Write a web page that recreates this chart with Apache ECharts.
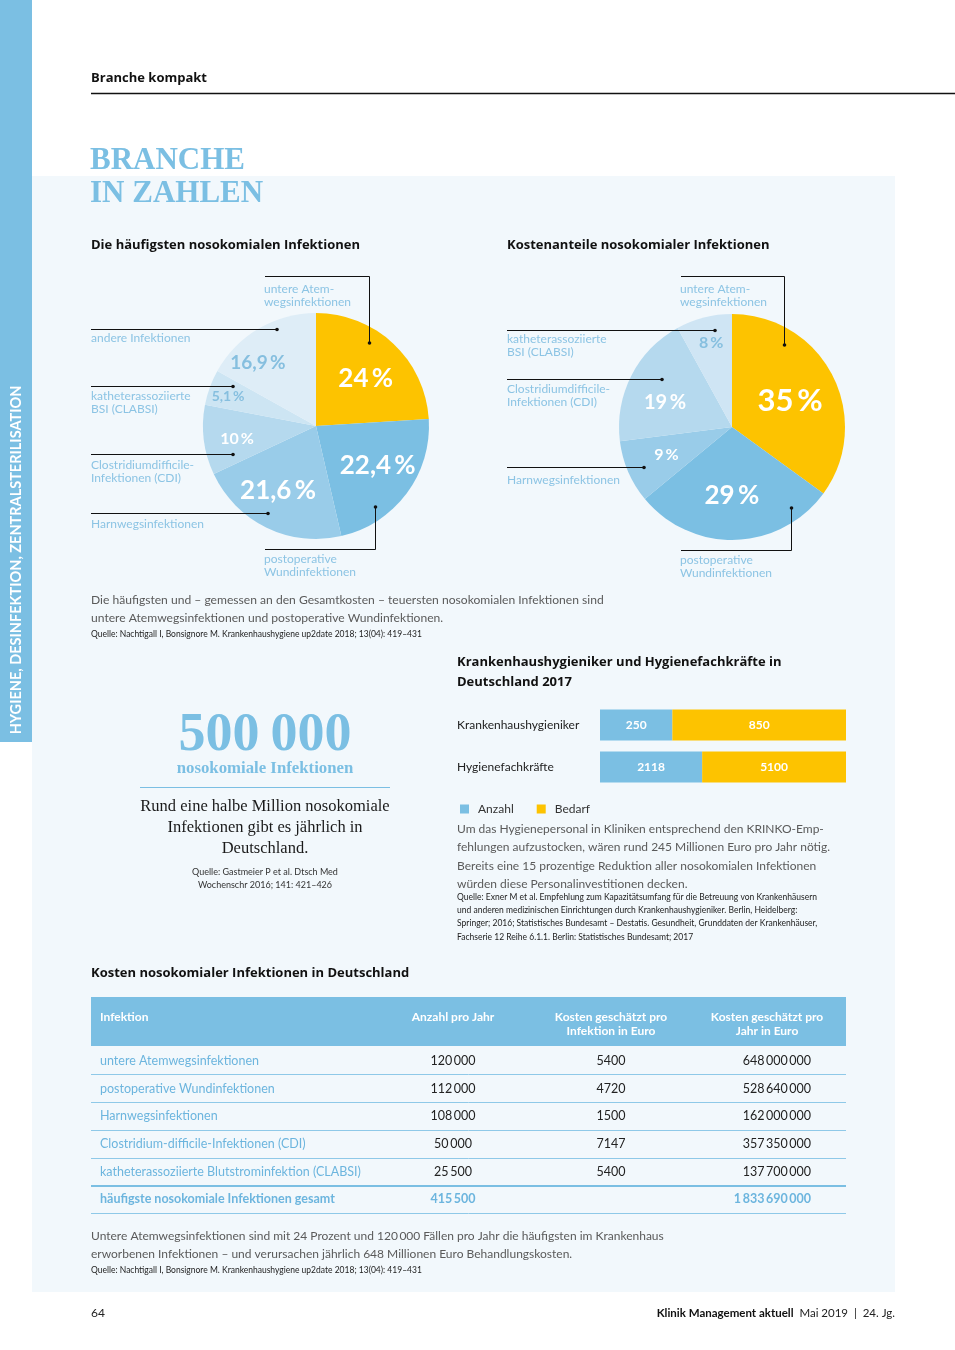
<!DOCTYPE html>
<html><head><meta charset="utf-8">
<script src="https://cdn.jsdelivr.net/npm/echarts@6.0.0/dist/echarts.min.js"></script>
<style>html,body{margin:0;padding:0;background:#fff}#c{width:955px;height:1350px}</style>
</head><body><div id="c"></div>
<script>
// ---------- DATA ----------
const pie1Names = ['untere Atemwegsinfektionen','postoperative Wundinfektionen','Harnwegsinfektionen','Clostridiumdifficile-Infektionen (CDI)','katheterassoziierte BSI (CLABSI)','andere Infektionen'];
const pie1Values = [24, 22.4, 21.6, 10, 5.1, 16.9];
const pie2Names = ['untere Atemwegsinfektionen','postoperative Wundinfektionen','Harnwegsinfektionen','Clostridiumdifficile-Infektionen (CDI)','katheterassoziierte BSI (CLABSI)'];
const pie2Values = [35, 29, 9, 19, 8];

const barCategories = ['Krankenhaushygieniker', 'Hygienefachkräfte'];
const barAnzahl = [250, 2118];
const barBedarf = [850, 5100];
const barLegend = ['Anzahl', 'Bedarf'];

const tableHeader = ['Infektion', 'Anzahl pro Jahr', 'Kosten geschätzt pro\nInfektion in Euro', 'Kosten geschätzt pro\nJahr in Euro'];
const tableNames = ['untere Atemwegsinfektionen','postoperative Wundinfektionen','Harnwegsinfektionen','Clostridium-difficile-Infektionen (CDI)','katheterassoziierte Blutstrominfektion (CLABSI)'];
const tableAnzahl = [120000, 112000, 108000, 50000, 25500];
const tableKostenInfektion = [5400, 4720, 1500, 7147, 5400];
const tableKostenJahr = [648000000, 528640000, 162000000, 357350000, 137700000];
const tableTotalName = 'häufigste nosokomiale Infektionen gesamt';
const tableTotalAnzahl = 415500;
const tableTotalKosten = 1833690000;

// ---------- STYLE ----------
const SANS = "Lato, 'Noto Sans', sans-serif";
const HEAD = "'Open Sans', 'Noto Sans', sans-serif";
const SERIF = "'Liberation Serif', serif";
const BLUE = '#7bbfe3';
const YELLOW = '#fdc300';
const LABELBLUE = '#8cc4e4';
const pie1Colors = [YELLOW, BLUE, '#99cce9', '#b5d9ee', '#cde5f3', '#deedf7'];
const pie1LabelColors = ['#fff','#fff','#fff','#fff','#86bfdf','#86bfdf'];
const pie1LabelSizes = [26, 26, 26, 16, 14, 19];
const pie1LabelShift = [[9,-4],[14,4],[-12,11],[-20,5],[-32,-9],[-28,-12]];
const pie2Colors = [YELLOW, BLUE, '#99cce9', '#b5d9ee', '#cfe5f4'];
const pie2LabelColors = ['#fff','#fff','#fff','#fff','#86bfdf'];
const pie2LabelSizes = [31, 26, 16, 20, 16];
const pie2LabelShift = [[5,1],[-2,9],[-11,4],[-14,3],[-6,-27]];

function fmtPct(v){ return String(v).replace('.', ',') + '\u2009%'; }
function fmtNum(v){ const s = String(v); if (v < 10000) return s; return s.replace(/\B(?=(\d{3})+(?!\d))/g, '\u2009'); }

function txt(x, y, text, o) {
  return { type: 'text', x: x, y: y, z: 50, silent: true,
    style: Object.assign({ text: text, fill: '#222', fontFamily: SANS, fontSize: 12, fontWeight: 'normal',
      textAlign: 'left', align: 'left', textVerticalAlign: 'middle', verticalAlign: 'middle' }, o || {}) };
}
function poly(pts, o) { return { type: 'polyline', z: 60, silent: true, shape: { points: pts }, style: Object.assign({ stroke: '#111', lineWidth: 1, fill: null }, o || {}) }; }
function dot(x, y) { return { type: 'circle', z: 61, silent: true, shape: { cx: x, cy: y, r: 1.8 }, style: { fill: '#111' } }; }
function rect(x, y, w, h, fill, z) { return { type: 'rect', z: z == null ? -10 : z, silent: true, shape: { x: x, y: y, width: w, height: h }, style: { fill: fill } }; }
function hline(x1, x2, y, color, w) { return { type: 'line', z: 40, silent: true, shape: { x1: x1, y1: y, x2: x2, y2: y }, style: { stroke: color, lineWidth: w } }; }

const H = { fontFamily: HEAD, fontWeight: 'bold', fontSize: 13, fill: '#111' };
const els = [];
// backgrounds
els.push(rect(32, 176, 863, 1116, '#f2f8fc', -20));
els.push(rect(0, 0, 32, 742, BLUE, -19));
els.push(txt(16, 560, 'HYGIENE, DESINFEKTION, ZENTRALSTERILISATION', { fill: '#fff', fontWeight: 'bold', fontSize: 14.5, textAlign: 'center', align: 'center' }));
els[els.length - 1].rotation = Math.PI / 2;

// header
els.push(txt(91, 78, 'Branche kompakt', H));
els.push(hline(91, 955, 93.5, '#111', 1.3));
els.push(txt(90, 161, 'BRANCHE', { fontFamily: SERIF, fontWeight: 'bold', fontSize: 31, fill: BLUE }));
els.push(txt(90, 194, 'IN ZAHLEN', { fontFamily: SERIF, fontWeight: 'bold', fontSize: 31, fill: BLUE }));

// pie titles
els.push(txt(91, 245, 'Die häufigsten nosokomialen Infektionen', H));
els.push(txt(507, 245, 'Kostenanteile nosokomialer Infektionen', H));

const LBL = { fill: LABELBLUE, fontSize: 12 };
// pie 1 outer labels + leaders
[[264,289,'untere Atem-'],[264,302,'wegsinfektionen'],[91,338,'andere Infektionen'],[91,396,'katheterassoziierte'],[91,409,'BSI (CLABSI)'],
 [91,465,'Clostridiumdifficile-'],[91,478,'Infektionen (CDI)'],[91,524,'Harnwegsinfektionen'],[264,559,'postoperative'],[264,572,'Wundinfektionen']]
 .forEach(a => els.push(txt(a[0], a[1], a[2], LBL)));
els.push(poly([[265,276.5],[369.5,276.5],[369.5,343]])); els.push(dot(369.5,343));
els.push(poly([[91,329.5],[277,329.5]])); els.push(dot(277,329.5));
els.push(poly([[91,386.5],[233,386.5]])); els.push(dot(233,386.5));
els.push(poly([[91,454.5],[233,454.5]])); els.push(dot(233,454.5));
els.push(poly([[91,513.5],[268,513.5]])); els.push(dot(268,513.5));
els.push(poly([[265,549.5],[375.5,549.5],[375.5,507]])); els.push(dot(375.5,507));
// pie 2 outer labels + leaders
[[680,289,'untere Atem-'],[680,302,'wegsinfektionen'],[507,339,'katheterassoziierte'],[507,352,'BSI (CLABSI)'],
 [507,389,'Clostridiumdifficile-'],[507,402,'Infektionen (CDI)'],[507,480,'Harnwegsinfektionen'],[680,560,'postoperative'],[680,573,'Wundinfektionen']]
 .forEach(a => els.push(txt(a[0], a[1], a[2], LBL)));
els.push(poly([[681,276.5],[784.5,276.5],[784.5,345]])); els.push(dot(784.5,345));
els.push(poly([[507,330.5],[715,330.5]])); els.push(dot(715,330.5));
els.push(poly([[507,379.5],[662,379.5]])); els.push(dot(662,379.5));
els.push(poly([[507,467.5],[644,467.5]])); els.push(dot(644,467.5));
els.push(poly([[681,550.5],[791.5,550.5],[791.5,508]])); els.push(dot(791.5,508));

// paragraph under pies
const GRAY = '#5a5a5a';
els.push(txt(91, 600, 'Die häufigsten und – gemessen an den Gesamtkosten – teuersten nosokomialen Infektionen sind', { fill: GRAY, fontSize: 12.1 }));
els.push(txt(91, 618, 'untere Atemwegsinfektionen und postoperative Wundinfektionen.', { fill: GRAY, fontSize: 12.1 }));
els.push(txt(91, 634, 'Quelle: Nachtigall I, Bonsignore M. Krankenhaushygiene up2date 2018; 13(04): 419–431', { fontSize: 8.5, fill: '#222' }));

// 500 000 block
els.push(txt(265, 736, '500\u2009000', { fontFamily: SERIF, fontWeight: 'bold', fontSize: 54, fill: BLUE, textAlign: 'center', align: 'center' }));
els.push(txt(265, 769, 'nosokomiale Infektionen', { fontFamily: SERIF, fontWeight: 'bold', fontSize: 16.8, fill: BLUE, textAlign: 'center', align: 'center' }));
els.push(hline(140, 390, 787.5, BLUE, 1));
['Rund eine halbe Million nosokomiale', 'Infektionen gibt es jährlich in', 'Deutschland.'].forEach((s, i) =>
  els.push(txt(265, 807 + i * 21, s, { fontFamily: SERIF, fontSize: 16.5, fill: '#1a1a1a', textAlign: 'center', align: 'center' })));
els.push(txt(265, 872, 'Quelle: Gastmeier P et al. Dtsch Med', { fontSize: 9, fill: '#333', textAlign: 'center', align: 'center' }));
els.push(txt(265, 885, 'Wochenschr 2016; 141: 421–426', { fontSize: 9, fill: '#333', textAlign: 'center', align: 'center' }));

// bar block texts
els.push(txt(457, 662, 'Krankenhaushygieniker und Hygienefachkräfte in', H));
els.push(txt(457, 682, 'Deutschland 2017', H));
['Um das Hygienepersonal in Kliniken entsprechend den KRINKO-Emp-', 'fehlungen aufzustocken, wären rund 245 Millionen Euro pro Jahr nötig.',
 'Bereits eine 15 prozentige Reduktion aller nosokomialen Infektionen', 'würden diese Personalinvestitionen decken.']
 .forEach((s, i) => els.push(txt(457, 829 + i * 18.4, s, { fill: GRAY })));
['Quelle: Exner M et al. Empfehlung zum Kapazitätsumfang für die Betreuung von Krankenhäusern',
 'und anderen medizinischen Einrichtungen durch Krankenhaushygieniker. Berlin, Heidelberg:',
 'Springer; 2016; Statistisches Bundesamt – Destatis. Gesundheit, Grunddaten der Krankenhäuser,',
 'Fachserie 12 Reihe 6.1.1. Berlin: Statistisches Bundesamt; 2017']
 .forEach((s, i) => els.push(txt(457, 897 + i * 13.3, s, { fontSize: 8.5, fill: '#222' })));

// table
els.push(txt(91, 973, 'Kosten nosokomialer Infektionen in Deutschland', H));
els.push(rect(91, 997, 755, 49, BLUE, 30));
const colX = [100, 453, 611, 767];
tableHeader.forEach((h, i) => {
  const lines = h.split('\n');
  lines.forEach((l, j) => els.push(txt(colX[i], 1017 + j * 14, l, { fill: '#fff', fontWeight: 'bold', fontSize: 12, textAlign: i === 0 ? 'left' : 'center', align: i === 0 ? 'left' : 'center' })));
});
const rowY = [1061, 1089, 1116, 1144, 1172];
const NAMEBLUE = '#6cb5de';
tableNames.forEach((n, i) => {
  els.push(txt(100, rowY[i], n, { fill: NAMEBLUE, fontSize: 12.5 }));
  els.push(txt(453, rowY[i], fmtNum(tableAnzahl[i]), { fontSize: 12.5, textAlign: 'center', align: 'center' }));
  els.push(txt(611, rowY[i], fmtNum(tableKostenInfektion[i]), { fontSize: 12.5, textAlign: 'center', align: 'center' }));
  els.push(txt(811, rowY[i], fmtNum(tableKostenJahr[i]), { fontSize: 12.5, textAlign: 'right', align: 'right' }));
});
els.push(txt(100, 1199, tableTotalName, { fill: NAMEBLUE, fontSize: 12.5, fontWeight: 'bold' }));
els.push(txt(453, 1199, fmtNum(tableTotalAnzahl), { fill: NAMEBLUE, fontSize: 12.5, fontWeight: 'bold', textAlign: 'center', align: 'center' }));
els.push(txt(811, 1199, fmtNum(tableTotalKosten), { fill: NAMEBLUE, fontSize: 12.5, fontWeight: 'bold', textAlign: 'right', align: 'right' }));
[1074.5, 1102.5, 1130.5, 1158.5].forEach(y => els.push(hline(91, 846, y, '#8fc9e8', 1)));
els.push(hline(91, 846, 1186, BLUE, 2));
els.push(hline(91, 846, 1213.5, '#8fc9e8', 1));

els.push(txt(91, 1236, 'Untere Atemwegsinfektionen sind mit 24 Prozent und 120\u2009000 Fällen pro Jahr die häufigsten im Krankenhaus', { fill: GRAY }));
els.push(txt(91, 1254, 'erworbenen Infektionen – und verursachen jährlich 648 Millionen Euro Behandlungskosten.', { fill: GRAY }));
els.push(txt(91, 1270, 'Quelle: Nachtigall I, Bonsignore M. Krankenhaushygiene up2date 2018; 13(04): 419–431', { fontSize: 8.5, fill: '#222' }));

// footer
els.push(txt(91, 1313, '64', { fontSize: 12, fill: '#222' }));
els.push({ type: 'text', x: 895, y: 1313, z: 50, silent: true, style: {
  text: '{b|Klinik Management aktuell}{r|  Mai 2019  |  24. Jg.}', textAlign: 'right', align: 'right', textVerticalAlign: 'middle', verticalAlign: 'middle',
  rich: { b: { fontFamily: SANS, fontWeight: 'bold', fontSize: 11.5, fill: '#111', color: '#111' }, r: { fontFamily: SANS, fontSize: 11.5, fill: '#222', color: '#222' } } } });

// ---------- CHART ----------
function pieData(names, values, colors, lcolors, lsizes) {
  return values.map((v, i) => ({ name: names[i], value: v, itemStyle: { color: colors[i] },
    label: { color: lcolors[i], fontSize: lsizes[i] } }));
}
const pieLabel = { show: true, position: 'inside', fontFamily: SANS, fontWeight: 'bold', formatter: p => fmtPct(p.value) };

const chart = echarts.init(document.getElementById('c'), null, { renderer: 'canvas', width: 955, height: 1350 });
chart.setOption({
  animation: false,
  backgroundColor: '#ffffff',
  tooltip: { show: false },
  legend: {
    data: barLegend, left: 455, top: 798, icon: 'rect', itemWidth: 9, itemHeight: 9, itemGap: 23,
    textStyle: { fontFamily: SANS, fontSize: 12, color: '#333', padding: [0, 0, 0, 4] }
  },
  grid: { left: 600, top: 704, width: 246, height: 84, containLabel: false },
  xAxis: { type: 'value', min: 0, max: 1, show: false },
  yAxis: {
    type: 'category', data: barCategories, inverse: true,
    axisLine: { show: false }, axisTick: { show: false }, splitLine: { show: false },
    axisLabel: { align: 'left', margin: 143, fontFamily: SANS, fontSize: 12, color: '#222' }
  },
  graphic: { elements: els },
  series: [
    { type: 'pie', name: 'Häufigkeit', center: [316, 426], radius: [0, 113], startAngle: 90, clockwise: true,
      avoidLabelOverlap: false, labelLine: { show: false }, silent: true,
      label: pieLabel,
      labelLayout: p => ({ dx: pie1LabelShift[p.dataIndex][0], dy: pie1LabelShift[p.dataIndex][1] }),
      data: pieData(pie1Names, pie1Values, pie1Colors, pie1LabelColors, pie1LabelSizes) },
    { type: 'pie', name: 'Kosten', center: [732, 427], radius: [0, 113], startAngle: 90, clockwise: true,
      avoidLabelOverlap: false, labelLine: { show: false }, silent: true,
      label: pieLabel,
      labelLayout: p => ({ dx: pie2LabelShift[p.dataIndex][0], dy: pie2LabelShift[p.dataIndex][1] }),
      data: pieData(pie2Names, pie2Values, pie2Colors, pie2LabelColors, pie2LabelSizes) },
    { type: 'bar', name: barLegend[0], stack: 'p', barWidth: 31, silent: true,
      itemStyle: { color: BLUE },
      label: { show: true, position: 'inside', color: '#fff', fontFamily: SANS, fontWeight: 'bold', fontSize: 12,
        formatter: p => fmtNum(barAnzahl[p.dataIndex]) },
      data: barAnzahl.map((a, i) => a / barBedarf[i]) },
    { type: 'bar', name: barLegend[1], stack: 'p', barWidth: 31, silent: true,
      itemStyle: { color: YELLOW },
      label: { show: true, position: 'inside', color: '#fff', fontFamily: SANS, fontWeight: 'bold', fontSize: 12,
        formatter: p => fmtNum(barBedarf[p.dataIndex]) },
      data: barAnzahl.map((a, i) => 1 - a / barBedarf[i]) }
  ]
});
</script></body></html>
